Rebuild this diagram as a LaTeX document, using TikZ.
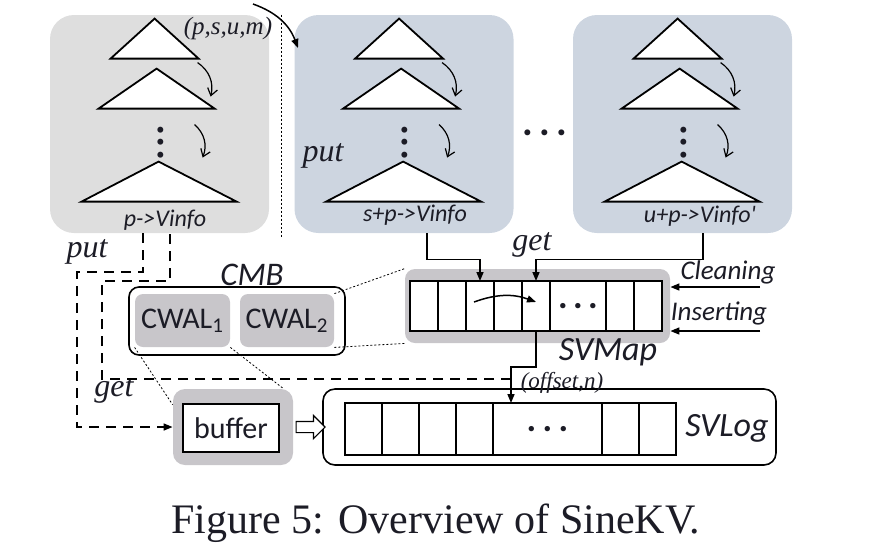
\documentclass[tikz,border=0pt]{standalone}
\usepackage{fontspec}
\setmainfont{Liberation Serif}
\newfontfamily\calfont{Carlito}
\usetikzlibrary{arrows.meta, calc, shapes.arrows}
\definecolor{treegray}{RGB}{222,222,222}
\definecolor{treeblue}{RGB}{205,213,224}
\definecolor{memgray}{RGB}{200,198,202}
\definecolor{ink}{RGB}{28,28,38}
\newcommand{\fsz}[1]{\fontsize{#1}{#1}\selectfont}
\newcommand{\threedots}[1]{.\kern#1.\kern#1.}

\tikzset{
	box/.style={rounded corners=12pt, minimum width=109.5pt, minimum height=109pt, inner sep=0},
	tri/.style={draw, fill=white, line width=0.9pt},
	hop/.style={-{Straight Barb[length=3.5pt,width=5pt]}, line width=0.6pt},
	flow/.style={-{Triangle[length=4.5pt,width=3.5pt]}, line width=0.75pt},
	cell/.style={draw, fill=white, line width=0.9pt, inner sep=0, outer sep=0, minimum width=14pt, minimum height=25pt},
	mem/.style={fill=memgray, rounded corners=5pt, inner sep=0},
	clab/.style={font=\calfont\itshape\fsz{#1}, inner sep=1pt},
	clab/.default=12,
	op/.style={font=\itshape\fsz{#1}, inner sep=1pt},
	op/.default=16,
	dotrow/.style={font=\calfont\bfseries\fsz{#1}, inner sep=0},
	dashline/.style={dash pattern=on 5pt off 3.5pt, line width=0.75pt},
	callout/.style={dash pattern=on 1pt off 1pt, line width=0.4pt},
	tree/.pic={
		\draw[tri] (61,44) -- (105,4) -- (149,44) -- cycle;
		\draw[tri] (49,94) -- (107,54) -- (165,94) -- cycle;
		\draw[tri] (32,187) -- (109,147) -- (187,187) -- cycle;
		\node[dotrow=20, rotate=90] at (111,128) {\threedots{0.7pt}};
		\coordinate (-a) at (148,48);
		\coordinate (-b) at (161,82);
		\coordinate (-c) at (145,110);
		\coordinate (-d) at (153,143);
		\draw[hop] (-a) to[bend left=35] (-b);
		\draw[hop] (-c) to[bend left=35] (-d);
	}
}

\begin{document}
\begin{tikzpicture}[x=0.5pt, y=-0.5pt, every node/.append style={text=ink}]
	\useasboundingbox (0,0) rectangle (872,548);

	% version trees
	\node[box, fill=treegray] (tr1) at (159.5,124) {};
	\node[box, fill=treeblue] (tr2) at (404,124) {};
	\node[box, fill=treeblue] (tr3) at (682.5,124) {};
	\pic (t1) at (tr1.north west) {tree};
	\pic (t2) at (tr2.north west) {tree};
	\pic (t3) at (tr3.north west) {tree};
	\node[clab] (v1) at (165,220) {p->Vinfo};
	\node[clab] (v2) at (415,215) {s+p->Vinfo};
	\node[clab] (v3) at (700,216) {u+p->Vinfo'};
	\node[dotrow=20] (hd) at (545,133) {\threedots{3.2pt}};
	\draw[callout, line width=0.5pt] ($(tr1.north east)!.5!(tr2.north west)$) -- ++(0,223);

	\node[op=12.5] (psum) at (228,28) {(p,s,u,m)};
	\coordinate (ps0) at (253,4);
	\coordinate (ps1) at (298,48);
	\draw[flow] (ps0) to[bend left=25] (ps1);
	\node[op] (put2) at (323,156) {put};

	% SVMap
	\node[mem, minimum width=132.5pt, minimum height=37pt] (sv) at (537.5,306) {};
	\node[cell] (m1) at (424,306) {};
	\node[cell] (m2) at (452,306) {};
	\node[cell] (m3) at (480,306) {};
	\node[cell] (m4) at (508,306) {};
	\node[cell] (m5) at (536,306) {};
	\node[cell, minimum width=28pt, dotrow=18] (m6) at (578,306) {\threedots{2.7pt}};
	\node[cell] (m7) at (620,306) {};
	\node[cell] (m8) at (648,306) {};
	\draw[flow] ([xshift=-3pt,yshift=2pt]m3.center) to[bend left=20] ([yshift=2pt]m5.center);
	\node[clab=17] (svl) at (608,352) {SVMap};

	\node[clab=13.5] (cl) at (728,272) {Cleaning};
	\node[clab=13.5] (in) at (719,313) {Inserting};
	\coordinate (cln) at (760,287);
	\coordinate (ins) at (760,331);
	\draw[flow] (cln) -- (cln -| sv.east);
	\draw[flow] (ins) -- (ins -| sv.east);

	\node[op] (get2) at (532,245) {get};
	\draw[flow] ([xshift=11.5pt]tr2.south) -- ++(0,26) -| (m3.north);
	\draw[flow] ([xshift=10.25pt]tr3.south) -- ++(0,26) -| (m5.north);

	% SVLog
	\node[draw, rounded corners=6pt, line width=0.8pt, minimum width=226.5pt, minimum height=38pt] (lg) at (549.5,427) {};
	\node[cell, minimum width=18.5pt, minimum height=26pt] (l1) at (363.5,429) {};
	\node[cell, minimum width=18.5pt, minimum height=26pt] (l2) at (400.5,429) {};
	\node[cell, minimum width=18.5pt, minimum height=26pt] (l3) at (437.5,429) {};
	\node[cell, minimum width=18.5pt, minimum height=26pt] (l4) at (474.5,429) {};
	\node[cell, minimum width=54.5pt, minimum height=26pt, dotrow=18] (l5) at (547.5,429) {\threedots{3.2pt}};
	\node[cell, minimum width=18.5pt, minimum height=26pt] (l6) at (620.5,429) {};
	\node[cell, minimum width=18.5pt, minimum height=26pt] (l7) at (657.5,429) {};
	\node[clab=17] (lgl) at (727,428) {SVLog};

	\draw[flow] (m5.south) -- ++(0,36) -| ([xshift=-18.25pt]l5.north);
	\node[op=11.5] (offn) at (562,383) {(of\kern0pt fset,n)};

	% CMB and buffer
	\node[draw, rounded corners=5pt, line width=0.8pt, minimum width=108pt, minimum height=34pt] (cmb) at (237,321) {};
	\node[mem, rounded corners=4pt, minimum width=47.5pt, minimum height=26.5pt, font=\calfont\fsz{15}] (cw1) at (182.5,320.5) {CWAL\textsubscript{1}};
	\node[mem, rounded corners=4pt, minimum width=47pt, minimum height=26.5pt, font=\calfont\fsz{15}] (cw2) at (287,320.5) {CWAL\textsubscript{2}};
	\node[clab=16.5] (cmbl) at (252,275) {CMB};

	\node[mem, rounded corners=6pt, minimum width=60pt, minimum height=38pt] (buf) at (233,427) {};
	\node[cell, minimum width=48pt, minimum height=24pt, font=\calfont\fsz{15}] (bufin) at (231,428) {buffer};
	\node[single arrow, draw, fill=white, line width=0.6pt, inner sep=2.5pt, single arrow head extend=3pt, minimum height=14.5pt] (ha) at ($(buf.east)!.5!(lg.west)$) {};

	\draw[callout] (cw2.north east) -- (sv.north west);
	\draw[callout] (cw2.south east) -- (sv.south west);
	\draw[callout] (cw1.south west) -- ([yshift=-8pt]buf.north west);
	\draw[callout] (cw1.south east) -- ([xshift=-5pt]buf.north east);

	% put / get paths
	\node[op] (put1) at (87,252) {put};
	\node[op] (get1) at (114,391) {get};
	\coordinate (tap) at (511,379);
	\draw[dashline, flow] ([xshift=-8.25pt]tr1.south) |- (77,272) |- (buf.west);
	\draw[dashline] (tap) -| (102,281) -| ([xshift=5.25pt]tr1.south);

	\node[font=\fsz{21}, anchor=base] (cap) at (436,533) {Figure 5: Overview of SineKV.};
\end{tikzpicture}
\end{document}
